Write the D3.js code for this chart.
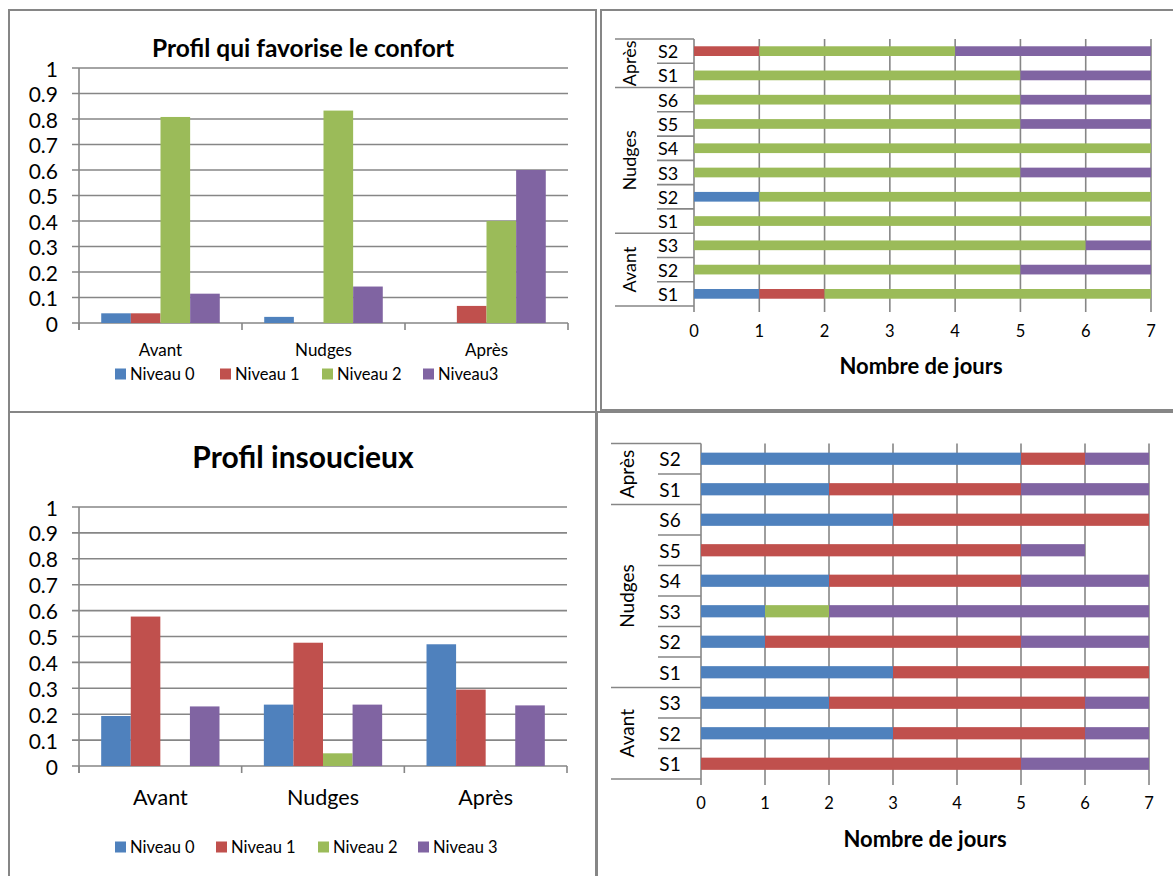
<!DOCTYPE html>
<html><head><meta charset="utf-8">
<script src="https://cdn.jsdelivr.net/npm/d3@7"></script>
<style>
html,body{margin:0;padding:0;background:#fff;}
svg{display:block;font-family:Lato,"Open Sans",sans-serif;}
</style></head>
<body><svg id="c" width="1173" height="876"></svg>
<script>
// ---------- DATA ----------
const levels = ["Niveau 0","Niveau 1","Niveau 2","Niveau 3"];
const colors = ["#4F81BD","#C0504D","#9BBB59","#8064A2"];
const phases = ["Avant","Nudges","Après"];
const yTicks = [0,0.1,0.2,0.3,0.4,0.5,0.6,0.7,0.8,0.9,1];
const xDayTicks = [0,1,2,3,4,5,6,7];

// Profil qui favorise le confort (share per level, per phase)
const confortTitle = "Profil qui favorise le confort";
const confortLegend = ["Niveau 0","Niveau 1","Niveau 2","Niveau3"];
const confortN0 = [0.038, 0.024, 0];
const confortN1 = [0.038, 0, 0.067];
const confortN2 = [0.808, 0.833, 0.4];
const confortN3 = [0.115, 0.143, 0.6];

// Profil insoucieux
const insoucTitle = "Profil insoucieux";
const insoucLegend = ["Niveau 0","Niveau 1","Niveau 2","Niveau 3"];
const insoucN0 = [0.193, 0.237, 0.47];
const insoucN1 = [0.577, 0.476, 0.295];
const insoucN2 = [0, 0.049, 0];
const insoucN3 = [0.23, 0.237, 0.234];

// Sessions (bottom to top)
const sessionGroups = ["Avant","Avant","Avant","Nudges","Nudges","Nudges","Nudges","Nudges","Nudges","Après","Après"];
const sessionLabels = ["S1","S2","S3","S1","S2","S3","S4","S5","S6","S1","S2"];
// Days per level, top-right chart
const daysA_N0 = [1,0,0, 0,1,0,0,0,0, 0,0];
const daysA_N1 = [1,0,0, 0,0,0,0,0,0, 0,1];
const daysA_N2 = [5,5,6, 7,6,5,7,5,5, 5,3];
const daysA_N3 = [0,2,1, 0,0,2,0,2,2, 2,3];
// Days per level, bottom-right chart
const daysB_N0 = [0,3,2, 3,1,1,2,0,3, 2,5];
const daysB_N1 = [5,3,4, 4,4,0,3,5,4, 3,1];
const daysB_N2 = [0,0,0, 0,0,1,0,0,0, 0,0];
const daysB_N3 = [2,1,1, 0,2,5,2,1,0, 2,1];
const xTitle = "Nombre de jours";

// ---------- DRAW ----------
const svg = d3.select("#c");
const GRID = "#868686";

function panel(x,y,w,h){
  svg.append("rect").attr("x",x).attr("y",y).attr("width",w).attr("height",h)
    .attr("fill","none").attr("stroke",GRID).attr("stroke-width",2);
}
panel(9,10,587,402);
panel(601,10,600,400);
panel(9,412,587,500);
panel(597,412,600,500);

function groupedBar(o){
  const g = svg.append("g");
  const series = [o.n0,o.n1,o.n2,o.n3];
  const x0 = d3.scaleBand().domain(phases).range([o.left,o.right]).padding(0);
  const x1 = d3.scaleBand().domain(d3.range(4)).range([0,x0.bandwidth()]).paddingInner(0).paddingOuter(0.75);
  const y = d3.scaleLinear().domain([0,1]).range([o.bottom,o.top]);
  g.append("text").attr("x",o.titleX).attr("y",o.titleY).attr("text-anchor","middle")
    .attr("dominant-baseline","central").attr("font-weight","bold").attr("font-size",o.titleSize)
    .attr("fill","#000").text(o.title);
  g.selectAll(".gl").data(yTicks).join("line")
    .attr("x1",o.left-7).attr("x2",o.right).attr("y1",d=>y(d)).attr("y2",d=>y(d))
    .attr("stroke",GRID).attr("stroke-width",1.6);
  g.append("line").attr("x1",o.left).attr("x2",o.left).attr("y1",o.top).attr("y2",o.bottom+7)
    .attr("stroke",GRID).attr("stroke-width",1.6);
  const bounds = phases.map(p=>x0(p)).concat([o.right]);
  g.selectAll(".ct").data(bounds).join("line")
    .attr("x1",d=>d).attr("x2",d=>d).attr("y1",o.bottom).attr("y2",o.bottom+7)
    .attr("stroke",GRID).attr("stroke-width",1.6);
  g.selectAll(".yl").data(yTicks).join("text")
    .attr("x",o.left-21).attr("y",d=>y(d)).attr("text-anchor","end").attr("dominant-baseline","central")
    .attr("font-size",21).attr("fill","#000").text(d=>d3.format("~g")(d));
  g.selectAll(".xl").data(phases).join("text")
    .attr("x",d=>x0(d)+x0.bandwidth()/2).attr("y",o.xLabY).attr("text-anchor","middle")
    .attr("dominant-baseline","central").attr("font-size",o.xLabSize).attr("fill","#000").text(d=>d);
  phases.forEach((p,i)=>{
    series.forEach((s,k)=>{
      if(s[i]<=0) return;
      g.append("rect").attr("x",x0(p)+x1(k)).attr("width",x1.bandwidth())
        .attr("y",y(s[i])).attr("height",y(0)-y(s[i])).attr("fill",colors[k]);
    });
  });
  o.legend.forEach((t,k)=>{
    g.append("rect").attr("x",o.legX[k]).attr("y",o.legY-5.5).attr("width",11).attr("height",11).attr("fill",colors[k]);
    g.append("text").attr("x",o.legX[k]+15).attr("y",o.legY).attr("dominant-baseline","central")
      .attr("font-size",16.5).attr("fill","#000").text(t);
  });
}

groupedBar({title:confortTitle,titleX:303,titleY:47,titleSize:24.5,left:79,right:568,top:68,bottom:323,
  n0:confortN0,n1:confortN1,n2:confortN2,n3:confortN3,xLabY:349,xLabSize:17,
  legend:confortLegend,legX:[115,220,322,423],legY:374});
groupedBar({title:insoucTitle,titleX:303,titleY:456,titleSize:30,left:79,right:567,top:507,bottom:766,
  n0:insoucN0,n1:insoucN1,n2:insoucN2,n3:insoucN3,xLabY:797,xLabSize:21.5,
  legend:insoucLegend,legX:[115,216,318,418],legY:847});

function stackedDays(o){
  const g = svg.append("g");
  const rows = sessionLabels.map((s,i)=>({key:i, lab:s, grp:sessionGroups[i],
     n0:o.n0[i], n1:o.n1[i], n2:o.n2[i], n3:o.n3[i]}));
  const stack = d3.stack().keys(["n0","n1","n2","n3"])(rows);
  const x = d3.scaleLinear().domain([0,7]).range([o.x0,o.x7]);
  const yb = d3.scaleBand().domain(rows.map(r=>r.key)).range([o.bottom,o.top]).paddingInner(0.6).paddingOuter(0.3);
  const step = yb.step();
  const mid = k => yb(k)+yb.bandwidth()/2;
  g.selectAll(".vg").data(xDayTicks).join("line")
    .attr("x1",d=>x(d)).attr("x2",d=>x(d)).attr("y1",o.top).attr("y2",o.bottom+6)
    .attr("stroke",GRID).attr("stroke-width",1.6);
  const bnd = d3.range(rows.length+1).map(i=>({y:o.bottom - i*step,
     grp: i===0 || i===rows.length || sessionGroups[i]!==sessionGroups[i-1]}));
  g.selectAll(".rs").data(bnd).join("line")
    .attr("x1",d=>d.grp?o.grpX:o.rowX).attr("x2",o.x0).attr("y1",d=>d.y).attr("y2",d=>d.y)
    .attr("stroke",GRID).attr("stroke-width",1.6);
  stack.forEach((s,k)=>{
    g.selectAll(".b"+k).data(s.filter(d=>d[1]>d[0])).join("rect")
      .attr("x",d=>x(d[0])).attr("width",d=>x(d[1])-x(d[0]))
      .attr("y",d=>yb(d.data.key)).attr("height",yb.bandwidth()).attr("fill",colors[k]);
  });
  g.selectAll(".rl").data(rows).join("text")
    .attr("x",o.labX).attr("y",d=>mid(d.key)).attr("text-anchor","middle").attr("dominant-baseline","central")
    .attr("font-size",o.labSize).attr("fill","#000").text(d=>d.lab);
  const groups = d3.groups(rows, r=>r.grp).map(([gname, rs])=>({gname, c:(mid(rs[0].key)+mid(rs[rs.length-1].key))/2}));
  g.selectAll(".gl").data(groups).join("text")
    .attr("transform",d=>`translate(${o.grpLabX},${d.c}) rotate(-90)`).attr("text-anchor","middle")
    .attr("dominant-baseline","central").attr("font-size",o.labSize).attr("fill","#000").text(d=>d.gname);
  g.selectAll(".xl").data(xDayTicks).join("text")
    .attr("x",d=>x(d)).attr("y",o.xLabY).attr("text-anchor","middle").attr("dominant-baseline","central")
    .attr("font-size",16.5).attr("fill","#000").text(d=>d);
  g.append("text").attr("x",o.titleX).attr("y",o.titleY).attr("text-anchor","middle").attr("dominant-baseline","central")
    .attr("font-size",22).attr("font-weight","bold").attr("fill","#000").text(xTitle);
}

stackedDays({n0:daysA_N0,n1:daysA_N1,n2:daysA_N2,n3:daysA_N3,x0:694,x7:1151,top:39,bottom:306,
  rowX:657,grpX:615,labX:668,grpLabX:629,labSize:18,xLabY:331,titleX:921,titleY:365});
stackedDays({n0:daysB_N0,n1:daysB_N1,n2:daysB_N2,n3:daysB_N3,x0:701,x7:1149,top:443.5,bottom:779,
  rowX:658,grpX:611,labX:670,grpLabX:626,labSize:19,xLabY:803,titleX:925,titleY:838});
</script></body></html>
